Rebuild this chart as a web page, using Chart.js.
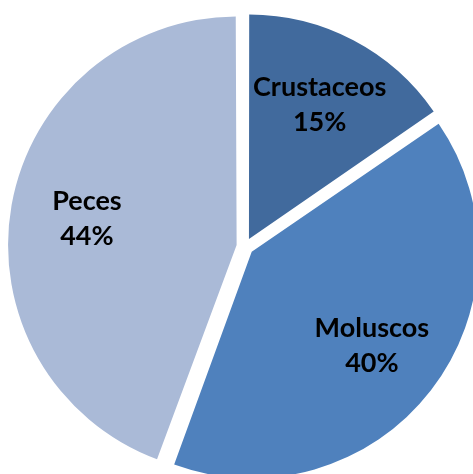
<!DOCTYPE html>
<html>
<head>
<meta charset="utf-8">
<script src="https://cdn.jsdelivr.net/npm/chart.js@4.4.1/dist/chart.umd.min.js"></script>
<style>
html,body{margin:0;padding:0;background:#fff;}
#wrap{width:473px;height:474px;position:relative;}
</style>
</head>
<body>
<div id="wrap"><canvas id="c" width="473" height="474"></canvas></div>
<script>
const categories = ["Crustaceos", "Moluscos", "Peces"];
const values = [15.4, 40.2, 44.4];
const colors = ["#416a9d", "#4f81bd", "#aabad7"];

const labelPlugin = {
  id: 'sliceLabels',
  afterDatasetsDraw(chart) {
    const ctx = chart.ctx;
    const meta = chart.getDatasetMeta(0);
    const total = values.reduce((a, b) => a + b, 0);
    ctx.save();
    ctx.fillStyle = '#000';
    ctx.font = 'bold 27px Lato';
    ctx.textAlign = 'center';
    ctx.textBaseline = 'alphabetic';
    meta.data.forEach((arc, i) => {
      const p = arc.getProps(['x', 'y', 'startAngle', 'endAngle', 'outerRadius'], true);
      const mid = (p.startAngle + p.endAngle) / 2;
      const r = p.outerRadius * 0.72;
      const cx = p.x + Math.cos(mid) * r;
      const cy = p.y + Math.sin(mid) * r;
      const pct = Math.round(values[i] / total * 100) + '%';
      ctx.fillText(categories[i], cx, cy - 17.5 + 9.5);
      ctx.fillText(pct, cx, cy + 17.5 + 9.5);
    });
    ctx.restore();
  }
};

new Chart(document.getElementById('c'), {
  type: 'pie',
  data: {
    labels: categories,
    datasets: [{
      data: values,
      backgroundColor: colors,
      borderWidth: 0,
      offset: 34,
      radius: 223
    }]
  },
  options: {
    responsive: false,
    animation: false,
    layout: { padding: { left: 17, top: 19, right: 0, bottom: 0 } },
    plugins: {
      legend: { display: false },
      tooltip: { enabled: false }
    }
  },
  plugins: [labelPlugin]
});
</script>
</body>
</html>
